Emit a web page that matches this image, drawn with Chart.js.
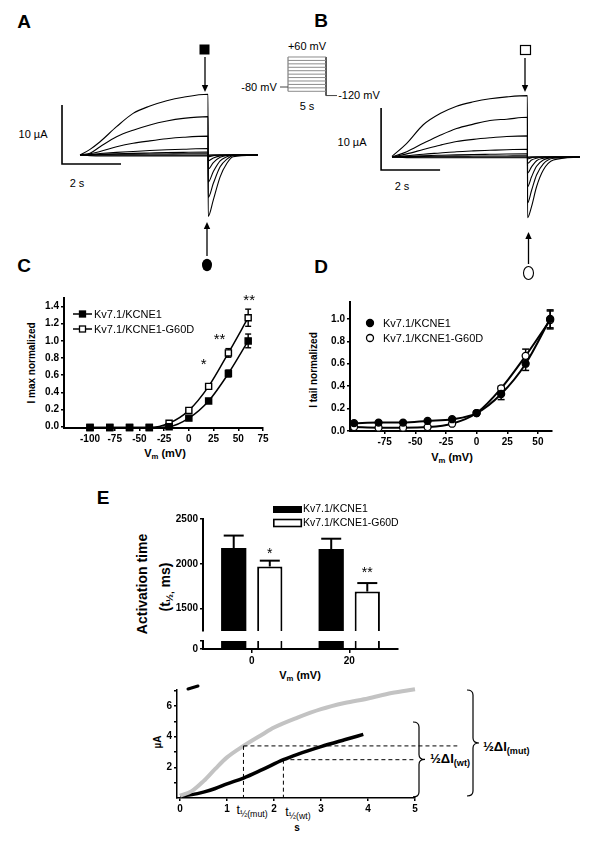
<!DOCTYPE html>
<html lang="en">
<head>
<meta charset="utf-8">
<title>Kv7.1/KCNE1 vs Kv7.1/KCNE1-G60D</title>
<script src="https://cdn.jsdelivr.net/npm/chart.js@4.4.1/dist/chart.umd.min.js"></script>
<style>
  html, body { margin: 0; padding: 0; background: #fff; }
  body { position: relative; width: 600px; height: 842px; overflow: hidden; font-family: Arial, "Liberation Sans", sans-serif; color: #000; }
  canvas { position: absolute; }
  .t { position: absolute; white-space: nowrap; line-height: 1; transform: translate(-50%, -50%); font-size: 11px; }
  .l { transform: translate(0, -50%); }
  .rot { transform: translate(-50%, -50%) rotate(-90deg); }
  .b { font-weight: bold; }
  .panel { font-size: 19px; font-weight: bold; }
  sub { font-size: 70%; vertical-align: -0.35em; line-height: 0; }
</style>
</head>
<body>

<!-- letras de panel y rótulos -->
<div class="t panel" style="left:24px;top:21px">A</div>
<div class="t panel" style="left:321px;top:20px">B</div>
<div class="t panel" style="left:24px;top:265px">C</div>
<div class="t panel" style="left:321px;top:266px">D</div>
<div class="t panel" style="left:103px;top:497px">E</div>

<div class="t" style="left:33px;top:134px">10 µA</div>
<div class="t" style="left:77px;top:183px">2 s</div>
<div class="t" style="left:307px;top:46px">+60 mV</div>
<div class="t" style="left:259px;top:87px">-80 mV</div>
<div class="t" style="left:359px;top:95px">-120 mV</div>
<div class="t" style="left:307px;top:106px">5 s</div>
<div class="t" style="left:352px;top:142px">10 µA</div>
<div class="t" style="left:402px;top:186px">2 s</div>

<div class="t rot b" style="left:32px;top:363px;font-size:10px">I max normalized</div>
<div class="t b" style="left:165px;top:453px;font-size:11px">V<sub>m</sub> (mV)</div>
<div class="t rot b" style="left:314px;top:370px;font-size:10px">I tail normalized</div>
<div class="t b" style="left:452px;top:457px;font-size:11px">V<sub>m</sub> (mV)</div>

<div class="t rot b" style="left:142px;top:584px;font-size:14px">Activation time</div>
<div class="t rot b" style="left:165px;top:587px;font-size:14px">(t<sub>½,</sub> ms)</div>
<div class="t b" style="left:300px;top:675px;font-size:11px">V<sub>m</sub> (mV)</div>

<div class="t rot b" style="left:158px;top:742px;font-size:10px">µA</div>
<div class="t b" style="left:297px;top:828px;font-size:10px">s</div>
<div class="t" style="left:252px;top:810px;font-size:12.5px">t<sub>½(mut)</sub></div>
<div class="t" style="left:298px;top:812px;font-size:12.5px">t<sub>½(wt)</sub></div>
<div class="t l b" style="left:430px;top:758px;font-size:13px">½ΔI<sub>(wt)</sub></div>
<div class="t l b" style="left:483px;top:746px;font-size:13px">½ΔI<sub>(mut)</sub></div>

<script>
// ---------- datos ----------
const seriesNames = ['Kv7.1/KCNE1', 'Kv7.1/KCNE1-G60D'];

// A: trazos de corriente Kv7.1/KCNE1 (tiempo en s, corriente en µA)
const tA = [0, 0.34, 0.68, 1.24, 1.8, 2.37, 2.94, 3.5, 4.34, 4.345, 4.52, 4.75, 4.98, 5.19, 6.03];
const tracesA = [
  [0, 0.96, 2.25, 4.8, 7.06, 8.3, 9.2, 9.8, 10.3, -10.4, -7.6, -3.7, -1.4, -0.3, 0],
  [0, 0.3, 1.4, 3.1, 4.2, 5.1, 5.76, 6.2, 6.5, -7.2, -4.8, -2.0, -0.7, -0.1, 0],
  [0, 0.2, 0.6, 1.4, 2.0, 2.4, 2.75, 3.0, 3.2, -4.6, -2.8, -1.0, -0.3, 0, 0],
  [0, 0.1, 0.25, 0.45, 0.6, 0.75, 0.88, 0.98, 1.1, -2.4, -1.3, -0.4, -0.1, 0, 0],
  [0, 0.05, 0.1, 0.2, 0.28, 0.34, 0.4, 0.45, 0.5, -1.0, -0.5, -0.15, 0, 0, 0],
  [0, 0.05, 0.08, 0.12, 0.15, 0.17, 0.18, 0.2, 0.2, -0.3, -0.1, 0, 0, 0, 0],
  [0, 0, 0, 0, 0, 0, 0, 0, 0, 0, 0, 0, 0, 0, 0],
  [0, -0.1, -0.15, -0.15, -0.15, -0.15, -0.15, -0.15, -0.15, -0.1, 0, 0, 0, 0, 0]
];

// B: trazos de corriente Kv7.1/KCNE1-G60D
const tB = [0, 0.5, 1.06, 1.63, 2.19, 2.76, 3.32, 3.89, 4.59, 4.595, 4.73, 4.9, 5.13, 5.47, 6.37];
const tracesB = [
  [0.1, 2.2, 5.2, 7.0, 8.2, 8.9, 9.4, 9.7, 9.9, -9.8, -8.0, -4.8, -2.1, -0.5, 0],
  [0, 0.86, 2.2, 3.5, 4.6, 5.3, 5.9, 6.1, 6.4, -7.4, -5.4, -2.9, -1.1, -0.2, 0],
  [0, 0.5, 1.2, 1.9, 2.5, 2.85, 3.1, 3.3, 3.4, -4.8, -3.2, -1.5, -0.5, -0.1, 0],
  [0, 0.2, 0.45, 0.65, 0.85, 0.98, 1.08, 1.18, 1.24, -2.6, -1.6, -0.6, -0.2, 0, 0],
  [0, 0.1, 0.2, 0.28, 0.35, 0.4, 0.44, 0.48, 0.5, -1.0, -0.5, -0.2, 0, 0, 0],
  [0, 0.05, 0.1, 0.12, 0.14, 0.15, 0.16, 0.17, 0.18, -0.3, -0.1, 0, 0, 0, 0],
  [0, 0, 0, 0, 0, 0, 0, 0, 0, 0, 0, 0, 0, 0, 0],
  [0, -0.1, -0.12, -0.12, -0.12, -0.12, -0.12, -0.12, -0.12, -0.1, 0, 0, 0, 0, 0]
];
const scaleBarS = 2;    // s
const scaleBarUA = 10;  // µA

// protocolo de pulsos (mV)
const protoLevels = [-100, -84, -68, -52, -36, -20, -4, 12, 28, 44, 60];
const protoHold = -80;
const protoTail = -120;
const protoDur = 5; // s

// C: corriente máxima normalizada
const vSteps = [-100, -80, -60, -40, -20, 0, 20, 40, 60];
const imaxWt = [-0.01, -0.01, -0.01, -0.01, 0.0, 0.1, 0.3, 0.62, 1.0];
const imaxMut = [-0.01, -0.01, -0.01, -0.01, 0.04, 0.19, 0.47, 0.86, 1.27];
const imaxWtErr = [0, 0, 0, 0, 0, 0.01, 0.02, 0.04, 0.08];
const imaxMutErr = [0, 0, 0, 0, 0, 0.01, 0.02, 0.05, 0.1];
const ticksCx = [-100, -75, -50, -25, 0, 25, 50, 75];
const ticksCy = [0, 0.2, 0.4, 0.6, 0.8, 1.0, 1.2, 1.4];
const starsC = ['*', '**', '**'];
const starsCx = [15, 31, 61];
const starsCy = [0.78, 1.07, 1.52];

// D: corriente de cola normalizada
const itailWt = [0.07, 0.075, 0.075, 0.09, 0.105, 0.16, 0.33, 0.6, 1.0];
const itailMut = [0.035, 0.03, 0.03, 0.035, 0.065, 0.16, 0.38, 0.67, 0.99];
const itailWtErr = [0, 0, 0, 0, 0, 0, 0.05, 0.06, 0.08];
const itailMutErr = [0, 0, 0, 0, 0, 0, 0.02, 0.06, 0.08];
const ticksDx = [-75, -50, -25, 0, 25, 50];
const ticksDy = [0, 0.2, 0.4, 0.6, 0.8, 1.0];

// E: tiempo de activación (ms)
const groupsE = ['0', '20'];
const actWt = [2175, 2165];
const actWtErr = [140, 115];
const actMut = [1970, 1690];
const actMutErr = [65, 95];
const ticksEy = [1500, 2000, 2500];
const starsE = ['*', '**'];
const starsEy = [2155, 1935];

// trazos de activación (s, µA)
const tMut = [0, 0.25, 0.5, 0.75, 1.0, 1.35, 1.75, 2.0, 2.5, 3.0, 3.5, 4.0, 4.5, 5.0];
const iMut = [0.15, 0.45, 1.1, 1.9, 2.65, 3.4, 4.15, 4.6, 5.25, 5.8, 6.2, 6.5, 6.85, 7.1];
const tWt = [0, 0.25, 0.5, 0.75, 1.0, 1.35, 1.75, 2.2, 2.5, 3.0, 3.5, 3.9];
const iWt = [0.15, 0.22, 0.38, 0.62, 0.92, 1.3, 1.85, 2.5, 2.85, 3.35, 3.8, 4.15];
const tHalf = [1.35, 2.2];      // t½ mut, t½ wt
const iHalf = [3.4, 2.5];       // ½ΔI mut, ½ΔI wt
const dashEnd = [5.9, 4.97];
const ticksFx = [0, 1, 2, 3, 4, 5];
const ticksFy = [1, 2, 3, 4, 5, 6, 7];

// ---------- configuración general ----------
const FONT = 'Arial, "Liberation Sans", sans-serif';
Chart.defaults.font.family = FONT;
Chart.defaults.color = '#000';
Chart.defaults.animation = false;
Chart.defaults.responsive = false;
Chart.defaults.maintainAspectRatio = false;
Chart.defaults.plugins.legend.display = false;
Chart.defaults.plugins.tooltip.enabled = false;
Chart.defaults.events = [];

// crea un canvas en coordenadas de página
function lienzo(l, t, w, h) {
  const c = document.createElement('canvas');
  c.width = w; c.height = h;
  c.style.left = l + 'px'; c.style.top = t + 'px';
  document.body.appendChild(c);
  return c;
}

// canvas cuya área de gráfico cae exactamente en "area"
function marco(area, yW, xH, padT, padR) {
  return lienzo(area.l - yW, area.t - padT, yW + area.r - area.l + padR, padT + area.b - area.t + xH);
}

function eje(min, max, ticks, fmt, size, horiz, fs) {
  return {
    type: 'linear', min, max,
    afterBuildTicks: s => { s.ticks = ticks.map(v => ({ value: v })); },
    afterFit: s => { if (horiz) s.height = size; else s.width = size; },
    border: { display: true, color: '#000', width: 2 },
    grid: { drawOnChartArea: false, drawTicks: true, tickLength: 3, lineWidth: 1.5, color: '#000' },
    ticks: { callback: fmt, font: { size: fs || 10, weight: 'bold' }, color: '#000', padding: 2, autoSkip: false, maxRotation: 0, minRotation: 0 }
  };
}

// plugin que dibuja en coordenadas de página
function enPagina(l, t, hooks) {
  const p = { id: 'deco' };
  ['beforeDatasetsDraw', 'afterDraw'].forEach(k => {
    if (hooks[k]) p[k] = chart => {
      const c = chart.ctx; c.save(); c.translate(-l, -t); hooks[k](c, chart); c.restore();
    };
  });
  return p;
}

function linea(c, x0, y0, x1, y1, w) {
  c.beginPath(); c.moveTo(x0, y0); c.lineTo(x1, y1);
  c.lineWidth = w; c.strokeStyle = '#000'; c.stroke();
}

function flecha(c, x, y0, y1) {
  const d = Math.sign(y1 - y0);
  linea(c, x, y0, x, y1 - d * 5, 1.3);
  c.beginPath(); c.moveTo(x, y1); c.lineTo(x - 3.2, y1 - d * 7); c.lineTo(x + 3.2, y1 - d * 7); c.closePath();
  c.fillStyle = '#000'; c.fill();
}

function barraError(c, x, y0, y1, cap, w) {
  linea(c, x, y0, x, y1, w);
  linea(c, x - cap / 2, y1, x + cap / 2, y1, w);
}

function texto(c, s, x, y, size, weight, align) {
  c.font = (weight || '') + ' ' + size + 'px ' + FONT;
  c.textAlign = align || 'left'; c.textBaseline = 'middle'; c.fillStyle = '#000';
  c.fillText(s, x, y);
}

// ---------- A y B: trazos de corriente ----------
function trazos(box, orig, pxS, pxUA, t, traces, bar, deco) {
  const ds = traces.map(v => ({
    data: t.map((x, i) => ({ x, y: v[i] })),
    borderColor: '#000', borderWidth: 1.1, pointRadius: 0,
    cubicInterpolationMode: 'monotone', clip: false
  }));
  ds.push({
    data: [{ x: bar.t0, y: bar.i0 + scaleBarUA }, { x: bar.t0, y: bar.i0 }, { x: bar.t0 + scaleBarS, y: bar.i0 }],
    borderColor: '#000', borderWidth: 1.6, pointRadius: 0, clip: false
  });
  new Chart(lienzo(box.l, box.t, box.w, box.h), {
    type: 'line',
    data: { datasets: ds },
    options: {
      devicePixelRatio: 1,
      layout: { padding: 0 },
      scales: {
        x: { type: 'linear', display: false, min: (box.l - orig.x) / pxS, max: (box.l + box.w - orig.x) / pxS },
        y: { type: 'linear', display: false, min: (orig.y - box.t - box.h) / pxUA, max: (orig.y - box.t) / pxUA }
      }
    },
    plugins: [enPagina(box.l, box.t, { afterDraw: deco })]
  });
}

trazos({ l: 0, t: 30, w: 300, h: 260 }, { x: 80, y: 155 }, 29.5, 5.9, tA, tracesA,
  { t0: -0.61, i0: -1.53 },
  c => {
    c.fillStyle = '#000'; c.fillRect(199.5, 44.5, 10, 10);
    flecha(c, 205, 57, 92);
    flecha(c, 207, 256, 222);
    c.beginPath(); c.ellipse(207, 265, 5, 6.2, 0, 0, Math.PI * 2); c.fillStyle = '#000'; c.fill();
  });

trazos({ l: 300, t: 30, w: 300, h: 260 }, { x: 392, y: 157 }, 29.5, 6.2, tB, tracesB,
  { t0: -0.37, i0: -2.1 },
  c => {
    c.lineWidth = 1.2; c.strokeStyle = '#000'; c.strokeRect(520.5, 45.5, 10, 9);
    flecha(c, 525, 58, 92);
    flecha(c, 528.5, 264, 232);
    c.beginPath(); c.ellipse(528.5, 273, 5, 6.5, 0, 0, Math.PI * 2); c.lineWidth = 1.1; c.stroke();
  });

// ---------- protocolo ----------
(function () {
  const box = { l: 268, t: 48, w: 82, h: 56 };
  const x0 = 288, pxS = 7.6, yHold = 87, pxMV = 0.2143;
  const top = protoLevels[protoLevels.length - 1];
  const ds = protoLevels.map(v => ({
    data: [{ x: 0, y: v }, { x: protoDur, y: v }], borderColor: '#8c8c8c', borderWidth: 1, pointRadius: 0
  }));
  ds.push({ data: [{ x: -1.05, y: protoHold }, { x: 0, y: protoHold }], borderColor: '#444', borderWidth: 1, pointRadius: 0 });
  ds.push({ data: [{ x: 0, y: protoLevels[0] }, { x: 0, y: top }], borderColor: '#666', borderWidth: 1, pointRadius: 0 });
  ds.push({ data: [{ x: protoDur, y: top }, { x: protoDur, y: protoTail }, { x: protoDur + 1.45, y: protoTail }], borderColor: '#444', borderWidth: 1, pointRadius: 0 });
  new Chart(lienzo(box.l, box.t, box.w, box.h), {
    type: 'line',
    data: { datasets: ds },
    options: {
      devicePixelRatio: 1,
      layout: { padding: 0 },
      scales: {
        x: { type: 'linear', display: false, min: (box.l - x0) / pxS, max: (box.l + box.w - x0) / pxS },
        y: { type: 'linear', display: false, min: protoHold - (box.t + box.h - yHold) / pxMV, max: protoHold + (yHold - box.t) / pxMV }
      }
    }
  });
})();

// ---------- C ----------
(function () {
  const area = { l: 64, t: 298, r: 263, b: 428 };
  const yW = 40, xH = 24, padT = 14, padR = 20;
  const cv = marco(area, yW, xH, padT, padR);
  const serie = (ys, fill) => ({
    data: vSteps.map((x, i) => ({ x, y: ys[i] })),
    borderColor: '#000', borderWidth: 1.5, cubicInterpolationMode: 'monotone',
    pointStyle: 'rect', pointRadius: 4.3, pointBackgroundColor: fill, pointBorderColor: '#000', pointBorderWidth: 1.4, clip: false
  });
  new Chart(cv, {
    type: 'line',
    data: { datasets: [serie(imaxWt, '#000'), serie(imaxMut, '#fff')] },
    options: {
      devicePixelRatio: 1,
      layout: { padding: { top: padT, right: padR, left: 0, bottom: 0 } },
      scales: {
        x: eje(-126.3, 75, ticksCx, v => String(v), xH, true),
        y: eje(-0.015, 1.5, ticksCy, v => v.toFixed(1), yW, false)
      }
    },
    plugins: [enPagina(area.l - yW, area.t - padT, {
      beforeDatasetsDraw: (c, ch) => {
        const xs = ch.scales.x, ys = ch.scales.y;
        [[imaxWt, imaxWtErr], [imaxMut, imaxMutErr]].forEach(([m, e]) => {
          vSteps.forEach((v, i) => {
            if (!e[i]) return;
            const x = xs.getPixelForValue(v) + area.l - yW, off = area.t - padT;
            barraError(c, x, ys.getPixelForValue(m[i]) + off, ys.getPixelForValue(m[i] + e[i]) + off, 6, 1.4);
            barraError(c, x, ys.getPixelForValue(m[i]) + off, ys.getPixelForValue(m[i] - e[i]) + off, 6, 1.4);
          });
        });
      },
      afterDraw: (c, ch) => {
        const xs = ch.scales.x, ys = ch.scales.y;
        starsC.forEach((s, i) => {
          texto(c, s, xs.getPixelForValue(starsCx[i]) + area.l - yW, ys.getPixelForValue(starsCy[i]) + area.t - padT + 5, 15, '', 'center');
        });
        [314, 329].forEach((y, i) => {
          linea(c, 73, y, 92, y, 1.5);
          c.fillStyle = i ? '#fff' : '#000';
          c.fillRect(79.5, y - 3, 6, 6);
          c.lineWidth = 1.3; c.strokeStyle = '#000'; c.strokeRect(79.5, y - 3, 6, 6);
          texto(c, seriesNames[i], 94, y + 0.5, 11);
        });
      }
    })]
  });
})();

// ---------- D ----------
(function () {
  const area = { l: 350, t: 302, r: 552, b: 431 };
  const yW = 40, xH = 24, padT = 14, padR = 20;
  const cv = marco(area, yW, xH, padT, padR);
  const serie = (ys, fill) => ({
    data: vSteps.map((x, i) => ({ x, y: ys[i] })),
    borderColor: '#000', borderWidth: 2, cubicInterpolationMode: 'monotone',
    pointStyle: 'circle', pointRadius: 3.5, pointBackgroundColor: fill, pointBorderColor: '#000', pointBorderWidth: 1.3, clip: false
  });
  new Chart(cv, {
    type: 'line',
    data: { datasets: [serie(itailWt, '#000'), serie(itailMut, '#fff')] },
    options: {
      devicePixelRatio: 1,
      layout: { padding: { top: padT, right: padR, left: 0, bottom: 0 } },
      scales: {
        x: eje(-103.3, 61.5, ticksDx, v => String(v), xH, true),
        y: eje(0, 1.15, ticksDy, v => v.toFixed(1), yW, false)
      }
    },
    plugins: [enPagina(area.l - yW, area.t - padT, {
      beforeDatasetsDraw: (c, ch) => {
        const xs = ch.scales.x, ys = ch.scales.y, ox = area.l - yW, oy = area.t - padT;
        [[itailWt, itailWtErr], [itailMut, itailMutErr]].forEach(([m, e]) => {
          vSteps.forEach((v, i) => {
            if (!e[i]) return;
            const x = xs.getPixelForValue(v) + ox;
            barraError(c, x, ys.getPixelForValue(m[i]) + oy, ys.getPixelForValue(m[i] + e[i]) + oy, 7, 1.5);
            barraError(c, x, ys.getPixelForValue(m[i]) + oy, ys.getPixelForValue(m[i] - e[i]) + oy, 7, 1.5);
          });
        });
      },
      afterDraw: c => {
        [323, 338].forEach((y, i) => {
          c.beginPath(); c.arc(370, y, 3.5, 0, Math.PI * 2);
          c.fillStyle = i ? '#fff' : '#000'; c.fill();
          c.lineWidth = 1.3; c.strokeStyle = '#000'; c.stroke();
          texto(c, seriesNames[i], 383, y + 0.5, 11);
        });
      }
    })]
  });
})();

// ---------- E: barras con eje cortado ----------
const barDs = () => [
  { label: seriesNames[0], data: actWt, backgroundColor: '#000', borderWidth: 0, categoryPercentage: 0.74, barPercentage: 0.7, clip: 0 },
  { label: seriesNames[1], data: actMut, backgroundColor: '#fff', borderColor: '#000', borderWidth: 2, categoryPercentage: 0.74, barPercentage: 0.7, clip: 0 }
];

(function () {
  const area = { l: 203, t: 519, r: 398, b: 631 };
  const yW = 40, padT = 22, padR = 10, padB = 8;
  const cv = lienzo(area.l - yW, area.t - padT, yW + area.r - area.l + padR, padT + area.b - area.t + padB);
  new Chart(cv, {
    type: 'bar',
    data: { labels: groupsE, datasets: barDs() },
    options: {
      devicePixelRatio: 1,
      layout: { padding: { top: padT, right: padR, left: 0, bottom: padB } },
      scales: {
        x: { type: 'category', display: false },
        y: eje(1250, 2500, ticksEy, v => String(v), yW, false)
      }
    },
    plugins: [enPagina(area.l - yW, area.t - padT, {
      afterDraw: (c, ch) => {
        const ys = ch.scales.y, ox = area.l - yW, oy = area.t - padT;
        [[actWt, actWtErr], [actMut, actMutErr]].forEach(([m, e], k) => {
          ch.getDatasetMeta(k).data.forEach((bar, j) => {
            barraError(c, bar.x + ox, ys.getPixelForValue(m[j]) + oy, ys.getPixelForValue(m[j] + e[j]) + oy, 20, 2);
          });
        });
        ch.getDatasetMeta(1).data.forEach((bar, j) => {
          texto(c, starsE[j], bar.x + ox, ys.getPixelForValue(starsEy[j]) + oy + 4, 14, '', 'center');
        });
        [509.5, 523].forEach((y, i) => {
          c.fillStyle = i ? '#fff' : '#000';
          c.fillRect(273, y - 3.5, 29, 7);
          if (i) { c.lineWidth = 1.6; c.strokeStyle = '#000'; c.strokeRect(273.8, y - 3.5, 27.5, 7); }
          texto(c, seriesNames[i], 303, y, 10.5);
        });
      }
    })]
  });
})();

(function () {
  const area = { l: 203, t: 641, r: 398, b: 649 };
  const yW = 40, xH = 22, padT = 8, padR = 10;
  const cv = marco(area, yW, xH, padT, padR);
  new Chart(cv, {
    type: 'bar',
    data: { labels: groupsE, datasets: barDs() },
    options: {
      devicePixelRatio: 1,
      layout: { padding: { top: padT, right: padR, left: 0, bottom: 0 } },
      scales: {
        x: {
          type: 'category', offset: true,
          afterFit: s => { s.height = xH; },
          border: { display: true, color: '#000', width: 2 },
          grid: { offset: false, drawOnChartArea: false, tickLength: 4, lineWidth: 1.5, color: '#000' },
          ticks: { font: { size: 10, weight: 'bold' }, color: '#000', padding: 2 }
        },
        y: eje(0, 100, [0, 100], v => (v === 0 ? '0' : ''), yW, false)
      }
    }
  });
})();

// ---------- trazos de activación ----------
(function () {
  const area = { l: 177, t: 690, r: 415, b: 798 };
  const yW = 30, xH = 22, padT = 8, padR = 125;
  const cv = marco(area, yW, xH, padT, padR);
  const ox = area.l - yW, oy = area.t - padT;
  new Chart(cv, {
    type: 'line',
    data: {
      datasets: [
        { data: tMut.map((x, i) => ({ x, y: iMut[i] })), borderColor: '#c3c3c3', borderWidth: 4, pointRadius: 0, cubicInterpolationMode: 'monotone', clip: false },
        { data: tWt.map((x, i) => ({ x, y: iWt[i] })), borderColor: '#000', borderWidth: 3.5, pointRadius: 0, cubicInterpolationMode: 'monotone', clip: false }
      ]
    },
    options: {
      devicePixelRatio: 1,
      layout: { padding: { top: padT, right: padR, left: 0, bottom: 0 } },
      scales: {
        x: Object.assign(eje(-0.064, 5, ticksFx, v => String(v), xH, true), { border: { display: true, color: '#000', width: 1.5 } }),
        y: Object.assign(eje(0, 7.05, ticksFy, v => (v % 2 === 0 ? String(v) : ''), yW, false), { border: { display: true, color: '#000', width: 1.5 } })
      }
    },
    plugins: [enPagina(ox, oy, {
      afterDraw: (c, ch) => {
        const xs = ch.scales.x, ys = ch.scales.y;
        const X = v => xs.getPixelForValue(v) + ox, Y = v => ys.getPixelForValue(v) + oy;
        c.save();
        c.setLineDash([4, 3]);
        tHalf.forEach((t, i) => {
          linea(c, X(t), Y(iHalf[i]), X(t), Y(0), 1);
          linea(c, X(t), Y(iHalf[i]), X(dashEnd[i]), Y(iHalf[i]), 1);
        });
        c.restore();
        // llaves ½ΔI
        const llave = (x, y0, y1, w) => {
          const m = (y0 + y1) / 2, r = 5, xm = x + w / 2;
          c.beginPath();
          c.moveTo(x, y0); c.quadraticCurveTo(xm, y0, xm, y0 + r);
          c.lineTo(xm, m - r); c.quadraticCurveTo(xm, m, x + w, m);
          c.quadraticCurveTo(xm, m, xm, m + r);
          c.lineTo(xm, y1 - r); c.quadraticCurveTo(xm, y1, x, y1);
          c.lineWidth = 1.2; c.strokeStyle = '#000'; c.stroke();
        };
        llave(413, Y(4.96), Y(0.07), 12);
        llave(467, Y(7.05), Y(0.13), 12);
        // trazo suelto arriba a la izquierda
        c.lineCap = 'round';
        linea(c, 188, 689, 198, 686, 3);
      }
    })]
  });
})();
</script>
</body>
</html>
